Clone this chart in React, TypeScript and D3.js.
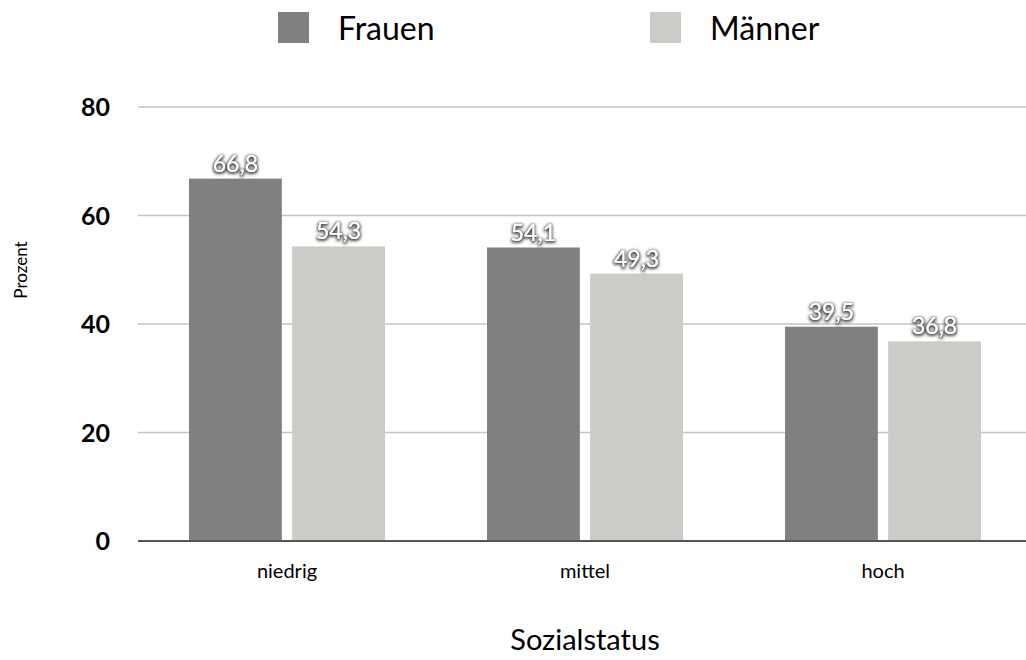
import React from "react";
import * as d3 from "d3";

const categories = ["niedrig", "mittel", "hoch"];
const seriesNames = ["Frauen", "Männer"];
const frauen = [66.8, 54.1, 39.5];
const maenner = [54.3, 49.3, 36.8];
const yTicks = [0, 20, 40, 60, 80];
const colors = ["#808080", "#c9ccc7"];

const W = 1026, H = 660;
const FONT = "Lato, 'Open Sans', sans-serif";

export default function App() {
  const x = d3.scaleBand<string>().domain(categories).range([138, 1032]).paddingInner(0).paddingOuter(0);
  const x1 = d3.scaleBand<string>().domain(seriesNames).range([0, 196]).paddingInner(0.1);
  const y = d3.scaleLinear().domain([0, 80]).range([541, 107]);
  const groupOffset = (x.bandwidth() - 196) / 2;
  const values = [frauen, maenner];
  const fmt = (v: number) => v.toFixed(1).replace(".", ",");

  return (
    <svg width={W} height={H} style={{ position: "absolute", left: 0, top: 0, background: "#fff" }}>
      <defs>
        <filter id="ts" x="-30%" y="-40%" width="160%" height="180%">
          <feMorphology in="SourceAlpha" operator="dilate" radius="0.5" result="d" />
          <feOffset in="d" dx="0" dy="1" result="o" />
          <feGaussianBlur in="o" stdDeviation="1.6" result="b" />
          <feFlood floodColor="#2a2a2a" floodOpacity="0.85" />
          <feComposite in2="b" operator="in" result="s" />
          <feMerge>
            <feMergeNode in="s" />
            <feMergeNode in="SourceGraphic" />
          </feMerge>
        </filter>
      </defs>
      <rect width={W} height={H} fill="#fff" />
      {/* legend */}
      {seriesNames.map((s, i) => {
        const sx = i === 0 ? 278 : 650;
        return (
          <g key={s}>
            <rect x={sx} y={12} width={31} height={31} fill={colors[i]} />
            <text x={sx + 60} y={40} fontFamily={FONT} fontSize={32} fill="#000">{s}</text>
          </g>
        );
      })}
      {/* grid */}
      {yTicks.filter(t => t > 0).map(t => (
        <line key={t} x1={138} x2={1026} y1={y(t)} y2={y(t)} stroke="#c4c4c4" strokeWidth={1.3} />
      ))}
      {yTicks.map(t => (
        <text key={"l" + t} x={110} y={y(t) + 9} textAnchor="end" fontFamily={FONT} fontWeight={700} fontSize={25} fill="#000">{t}</text>
      ))}
      {/* bars */}
      {categories.map((c, ci) => (
        <g key={c}>
          {seriesNames.map((s, si) => {
            const v = values[si][ci];
            const bx = (x(c) as number) + groupOffset + (x1(s) as number);
            return (
              <g key={s}>
                <rect x={bx} y={y(v)} width={x1.bandwidth()} height={y(0) - y(v)} fill={colors[si]} />
                <text x={bx + x1.bandwidth() / 2} y={y(v) - 7} textAnchor="middle" fontFamily={FONT} fontSize={23} fill="#fff" filter="url(#ts)">{fmt(v)}</text>
              </g>
            );
          })}
          <text x={(x(c) as number) + x.bandwidth() / 2} y={578} textAnchor="middle" fontFamily={FONT} fontSize={20} fill="#000">{c}</text>
        </g>
      ))}
      <line x1={138} x2={1026} y1={y(0)} y2={y(0)} stroke="#555" strokeWidth={2} />
      <text transform="translate(27,270) rotate(-90)" textAnchor="middle" fontFamily={FONT} fontSize={17} fill="#000">Prozent</text>
      <text x={585} y={650} textAnchor="middle" fontFamily={FONT} fontSize={29} fill="#000">Sozialstatus</text>
    </svg>
  );
}
